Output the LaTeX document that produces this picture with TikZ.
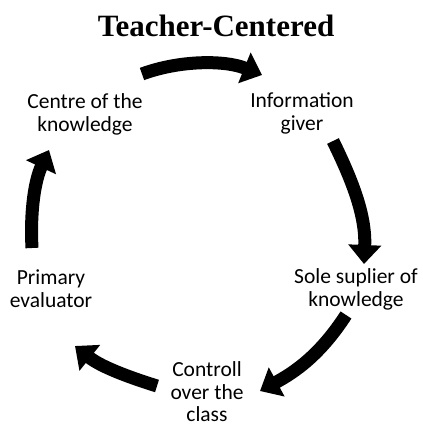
\documentclass[tikz,border=0pt]{standalone}
\usepackage{fontspec}
\setmainfont{Carlito}
\newfontfamily\titlefont{Liberation Serif}
\usetikzlibrary{arrows.meta}
\tikzset{
  lbl/.style={align=center, inner sep=0pt, font=\fontsize{21.5}{23}\selectfont},
  bigarrow/.style={line width=13pt, -{Triangle[length=19pt,width=32pt]}},
}
\begin{document}
\begin{tikzpicture}[x=1pt,y=-1pt]
\useasboundingbox (0,0) rectangle (423,429);
\node[inner sep=0pt, font=\titlefont\bfseries\fontsize{31}{34}\selectfont] (title) at (216,26) {Teacher-Centered};
\node[lbl] (centre) at (85,114) {Centre of the\\knowledge};
\node[lbl] (info) at (302,113) {Information\\giver};
\node[lbl] (sole) at (356,289) {Sole suplier of\\knowledge};
\node[lbl] (prim) at (51,289) {Primary\\evaluator};
\node[lbl, font=\fontsize{21.5}{22.5}\selectfont] (ctrl) at (207,392) {Controll\\over the\\class};
\coordinate (a1s) at (142,74); \coordinate (a1e) at (262,75);
\coordinate (a2s) at (333,141); \coordinate (a2e) at (364,264);
\coordinate (a3s) at (346,315); \coordinate (a3e) at (260,391);
\coordinate (a4s) at (157,386); \coordinate (a4e) at (75,346);
\coordinate (a5s) at (32,248); \coordinate (a5e) at (49,150);
\draw[bigarrow] (a1s) .. controls (180,60) and (225,60) .. (a1e);
\draw[bigarrow] (a2s) .. controls (352,180) and (366,215) .. (a2e);
\draw[bigarrow] (a3s) .. controls (320,355) and (295,372) .. (a3e);
\draw[bigarrow] (a4s) .. controls (125,376) and (100,366) .. (a4e);
\draw[bigarrow] (a5s) .. controls (30,210) and (35,180) .. (a5e);
\end{tikzpicture}
\end{document}
